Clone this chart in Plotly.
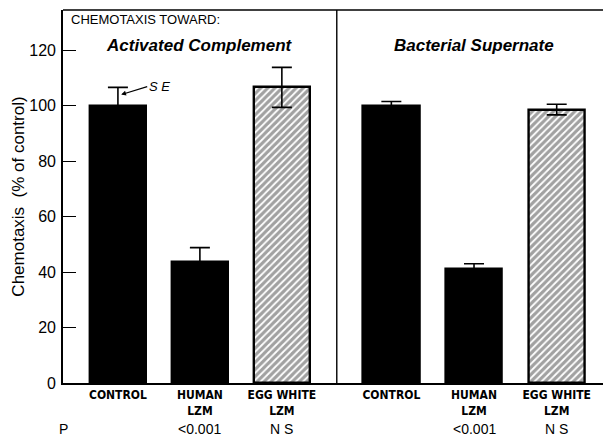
import plotly.graph_objects as go

groups = ["CONTROL", "HUMAN<br>LZM", "EGG WHITE<br>LZM"]
panel_titles = ["Activated Complement", "Bacterial Supernate"]
complement_vals = [100.0, 43.6, 106.6]
complement_se = [6.6, 5.2, 7.2]
bacterial_vals = [99.8, 41.2, 98.6]
bacterial_se = [1.7, 1.8, 1.9]
p_values = ["", "<0.001", "N S"]
y_ticks = [0, 20, 40, 60, 80, 100, 120]

hatch = [False, False, True]
fills = ["black" if not h else "white" for h in hatch]
shapes_pat = ["" if not h else "/" for h in hatch]

fig = go.Figure()
for i, (vals, se) in enumerate([(complement_vals, complement_se), (bacterial_vals, bacterial_se)]):
    xa = "x" if i == 0 else "x2"
    fig.add_trace(go.Bar(
        x=list(range(3)), y=vals, xaxis=xa, yaxis="y",
        width=0.68,
        marker=dict(color=fills, line=dict(color="black", width=2.4),
                    pattern=dict(shape=shapes_pat, fgcolor="black", bgcolor="white",
                                 size=5, solidity=0.65)),
        error_y=dict(type="data", array=se, visible=True, color="black",
                     thickness=1.6, width=10),
        showlegend=False,
    ))

label_font = dict(family="Liberation Sans Narrow, DejaVu Sans Condensed, Arial Narrow, sans-serif",
                  size=12, color="black")
axis_common = dict(
    tickmode="array", tickvals=list(range(3)), ticktext=[f"<b>{g}</b>" for g in groups],
    showline=True, linecolor="black", linewidth=1.6, ticks="", showgrid=False,
    zeroline=False, tickfont=label_font, fixedrange=True, automargin=False,
)
d = 0.507
fig.update_layout(
    width=606, height=443,
    margin=dict(l=63, r=3, t=10, b=60, autoexpand=False),
    plot_bgcolor="white", paper_bgcolor="white",
    bargap=0,
    xaxis=dict(domain=[0, d], range=[-0.67, 2.67], anchor="y", **axis_common),
    xaxis2=dict(domain=[d, 1], range=[-0.66, 2.56], anchor="y", **axis_common),
    yaxis=dict(range=[0, 134.5], tickvals=y_ticks, ticks="inside", ticklen=13,
               tickwidth=1.4, tickcolor="black", showline=True, linecolor="black",
               linewidth=1.6, showgrid=False, zeroline=False, automargin=False,
               ticklabelstandoff=2,
               tickfont=dict(family="Liberation Sans, Arial, sans-serif", size=16, color="black"),
               title=dict(text="Chemotaxis  (% of control)", standoff=0,
                          font=dict(family="Liberation Sans, Arial, sans-serif", size=17, color="black"))),
    font=dict(family="Liberation Sans, Arial, sans-serif", color="black"),
)

# frame: top border and panel divider
fig.add_shape(type="line", xref="paper", yref="paper", x0=0, x1=1, y0=1, y1=1,
              line=dict(color="black", width=1.6))
fig.add_shape(type="line", xref="paper", yref="paper", x0=d, x1=d, y0=0, y1=1,
              line=dict(color="black", width=1.4))

fig.add_annotation(xref="paper", yref="paper", x=0.012, y=1.0, xanchor="left", yanchor="top",
                   text="CHEMOTAXIS TOWARD:", showarrow=False,
                   font=dict(family="Liberation Sans, Arial, sans-serif", size=13, color="black"))
title_font = dict(family="Liberation Sans, Arial, sans-serif", size=17, color="black")
fig.add_annotation(xref="x", yref="y", x=1, y=121.8, text=f"<b><i>{panel_titles[0]}</i></b>",
                   showarrow=False, font=title_font)
fig.add_annotation(xref="x2", yref="y", x=1.0, y=121.8, text=f"<b><i>{panel_titles[1]}</i></b>",
                   showarrow=False, font=title_font)

# SE pointer
fig.add_annotation(xref="x", yref="y", x=0.04, y=104.0, ax=26, ay=-8,
                   text="<i>S E</i>", showarrow=True, arrowhead=2, arrowsize=0.8,
                   arrowwidth=1.2, arrowcolor="black", xanchor="left",
                   font=dict(family="Liberation Sans, Arial, sans-serif", size=13, color="black"))

# P row
pfont = dict(family="Liberation Sans, Arial, sans-serif", size=14, color="black")
fig.add_annotation(xref="paper", yref="paper", x=0.0, y=-0.122, yanchor="middle", xanchor="center",
                   text="P", showarrow=False, font=pfont)
for xa in ["x", "x2"]:
    for k, pv in enumerate(p_values):
        if pv:
            fig.add_annotation(xref=xa, yref="paper", x=k, y=-0.122, yanchor="middle",
                               text=pv.replace("<", "&lt;"), showarrow=False, font=pfont)

fig.write_html("out.html", post_script="document.body.style.margin='0px';",
               config={"displayModeBar": False})
